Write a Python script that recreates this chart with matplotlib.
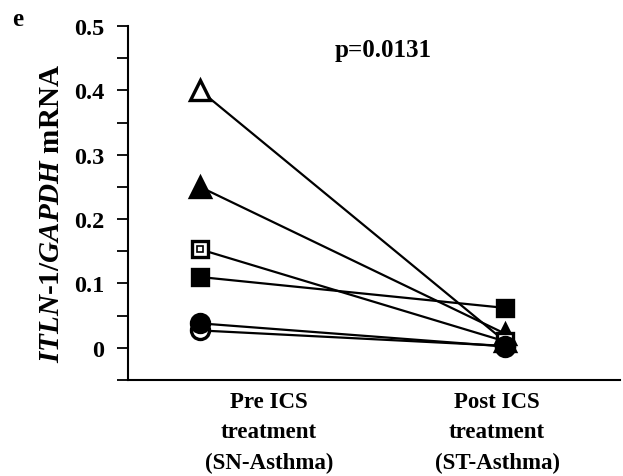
import matplotlib
matplotlib.use("Agg")
import matplotlib.pyplot as plt
from matplotlib.ticker import MultipleLocator

plt.rcParams["font.family"] = "Liberation Serif"
plt.rcParams["font.weight"] = "bold"
plt.rcParams["mathtext.fontset"] = "custom"
plt.rcParams["mathtext.it"] = "Liberation Serif:italic:bold"
plt.rcParams["mathtext.rm"] = "Liberation Serif:bold"

# Paired samples: value before and after ICS treatment (drawn in this order)
groups = ["Pre ICS\ntreatment\n(SN-Asthma)", "Post ICS\ntreatment\n(ST-Asthma)"]
pre_vals = [0.400, 0.250, 0.153, 0.110, 0.027, 0.038]
post_vals = [0.010, 0.022, 0.010, 0.062, 0.003, 0.002]
subject_markers = ["^", "^", "s", "s", "o", "o"]
subject_filled = [False, True, False, True, False, True]
p_text = "p=0.0131"
y_ticks = [0, 0.1, 0.2, 0.3, 0.4, 0.5]

fig = plt.figure(figsize=(6.23, 4.77), dpi=100)
ax = fig.add_axes([0.2055, 0.2013, 0.7897, 0.7421])

xs = [1, 2]
for pre, post, mk, filled in zip(pre_vals, post_vals, subject_markers, subject_filled):
    ms = {"^": 14, "s": 11, "o": 13}[mk]
    ax.plot(xs, [pre, post], color="black", lw=1.6, zorder=2)
    ax.plot(xs, [pre, post], linestyle="none", marker=mk, markersize=ms,
            markerfacecolor="black" if filled else "white",
            markeredgecolor="black", markeredgewidth=2.4, zorder=3)
    if mk == "s" and not filled:
        # nested square look of the open square marker
        ax.plot([1], [pre], linestyle="none", marker="s", markersize=5,
                markerfacecolor="white", markeredgecolor="black",
                markeredgewidth=1.2, zorder=3)

ax.set_xlim(0.764, 2.377)
ax.set_ylim(-0.05, 0.5)
ax.set_yticks(y_ticks)
ax.set_yticklabels(["0" if v == 0 else f"{v:.1f}" for v in y_ticks])
ax.yaxis.set_minor_locator(MultipleLocator(0.05))
ax.tick_params(axis="y", which="both", direction="out", length=8, width=1.3,
               labelsize=17.5, pad=9)
ax.set_xticks([])

for s in ["top", "right"]:
    ax.spines[s].set_visible(False)
ax.spines["left"].set_linewidth(1.5)
ax.spines["bottom"].set_linewidth(1.5)

label_x = [0.2866, 0.75]
for lx, g in zip(label_x, groups):
    ax.text(lx, -0.03, g, transform=ax.transAxes, ha="center", va="top",
            fontsize=16.5, fontweight="bold", linespacing=1.6)

ax.text(0.5195, 0.935, p_text, transform=ax.transAxes, ha="center", va="center",
        fontsize=18, fontweight="bold")

fig.text(0.082, 0.553, r"$\mathit{ITLN}$-$\mathit{1/GAPDH}$ mRNA", rotation=90,
         ha="center", va="center", fontsize=21, fontweight="bold")
fig.text(0.019, 0.96, "e", ha="left", va="center", fontsize=18, fontweight="bold")

fig.savefig("out.png", dpi=100)
